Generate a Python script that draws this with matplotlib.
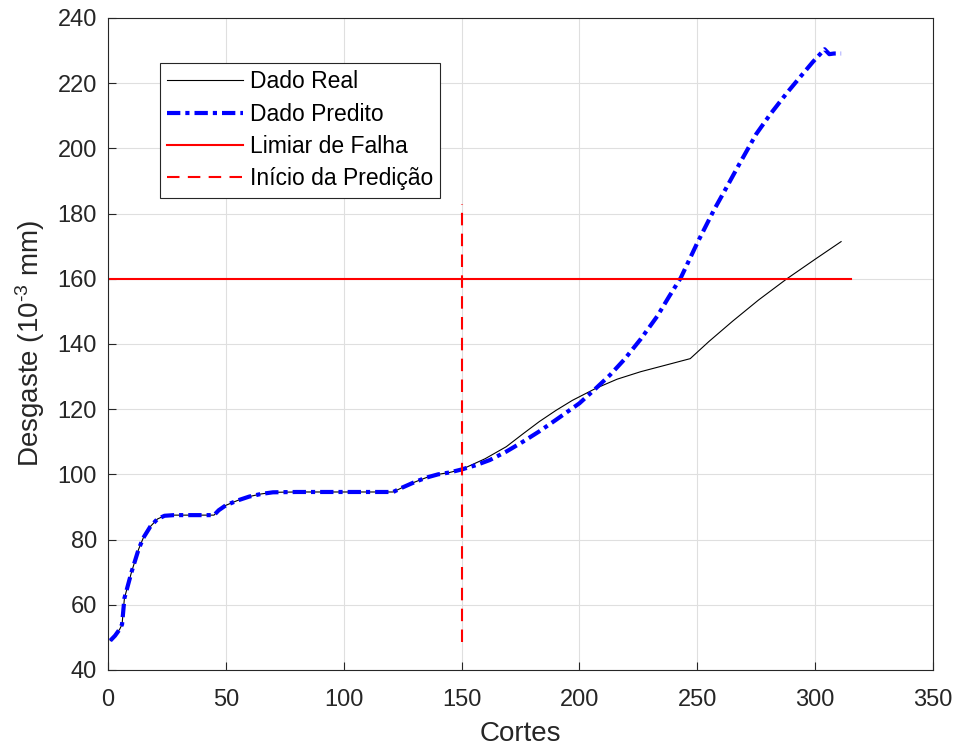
import numpy as np
import matplotlib.pyplot as plt

plt.rcParams["font.family"] = ["Liberation Sans", "DejaVu Sans"]
plt.rcParams["mathtext.fontset"] = "custom"
plt.rcParams["mathtext.rm"] = "Liberation Sans"
plt.rcParams["mathtext.it"] = "Liberation Sans:italic"

# Dado real (cortes, desgaste)
REAL_X = [1, 3, 5, 6, 7, 10, 13, 15, 18, 21, 24, 28, 45, 47, 50, 55, 60, 65, 70, 80,
          100, 121, 125, 130, 135, 140, 145, 150, 160, 169, 176, 183, 190, 197, 207,
          216, 226, 236, 247, 255, 265, 276, 288, 300, 311]
REAL_Y = [49, 50.5, 52.5, 54, 62, 70, 77, 80.5, 84, 86.3, 87.3, 87.5, 87.5, 89, 90.5,
          92, 93.2, 94, 94.5, 94.6, 94.6, 94.6, 96, 97.6, 99, 100, 100.6, 101.5,
          104.8, 108.5, 112.4, 116.2, 119.6, 122.7, 126.4, 129.2, 131.5, 133.4, 135.5,
          140.8, 147, 153.5, 160, 166, 171.4]

# Dado predito
PRED_X = [1, 3, 5, 6, 7, 10, 13, 15, 18, 21, 24, 28, 45, 47, 50, 55, 60, 65, 70, 80,
          100, 121, 125, 130, 135, 140, 145, 150, 156, 162, 169, 176, 183, 190, 200,
          207, 213, 219, 226, 233, 238, 243, 250, 257, 262, 268, 275, 281, 288, 294,
          299, 304, 306, 308, 311]
PRED_Y = [49, 50.5, 52.5, 54, 62, 70, 77, 80.5, 84, 86.3, 87.3, 87.5, 87.5, 89, 90.5,
          92, 93.2, 94, 94.5, 94.6, 94.6, 94.6, 96, 97.6, 99, 100, 100.6, 101.5,
          102.8, 104.4, 107, 110, 113.2, 116.7, 121.8, 126.4, 130.5, 135.2, 141.5,
          148.5, 154.5, 160.3, 171, 181, 187.5, 195.4, 204.4, 210.5, 217, 222.2,
          226.5, 230.4, 228.9, 229.1, 229.1]

LIMIAR = 160
LIMIAR_X = [0, 315]
INICIO_X = 150
INICIO_Y = [48.5, 183]

fig = plt.figure(figsize=(9.55, 7.49), dpi=100)
ax = fig.add_axes([0.113, 0.1055, 0.864, 0.8705])

ax.plot(REAL_X, REAL_Y, color="black", linewidth=0.8, label="Dado Real")
ax.plot(PRED_X, PRED_Y, color="blue", linewidth=3, linestyle=(0, (3.2, 1.2, 1.0, 1.2)),
        label="Dado Predito")
ax.plot(LIMIAR_X, [LIMIAR, LIMIAR], color="red", linewidth=1.5, label="Limiar de Falha")
ax.plot([INICIO_X, INICIO_X], INICIO_Y, color="red", linewidth=1.5,
        linestyle=(0, (6, 4)), label="Início da Predição")

ax.set_xlim(0, 350)
ax.set_ylim(40, 240)
ax.set_xticks(np.arange(0, 351, 50))
ax.set_yticks(np.arange(40, 241, 20))
ax.grid(True, color="#dfdfdf", linewidth=0.8)
ax.set_axisbelow(True)
ax.tick_params(direction="in", labelsize=17, colors="#262626", length=6)
ax.tick_params(axis="x", pad=14)
ax.tick_params(axis="y", pad=8)
for s in ax.spines.values():
    s.set_color("#262626")

ax.set_xlabel("Cortes", fontsize=20, color="#262626")
ax.set_ylabel("Desgaste (10$^{\\text{-3}}$ mm)", fontsize=20, color="#262626")
ax.xaxis.set_label_coords(0.5, -0.079)
ax.yaxis.set_label_coords(-0.074, 0.5)

leg = ax.legend(loc="upper left", bbox_to_anchor=(0.063, 0.931), borderaxespad=0,
                fontsize=16.5, fancybox=False, edgecolor="#262626", framealpha=1,
                handlelength=3.3, borderpad=0.32, labelspacing=0.41, handletextpad=0.3)
leg.get_frame().set_linewidth(0.8)

fig.savefig("out.png", dpi=100)
